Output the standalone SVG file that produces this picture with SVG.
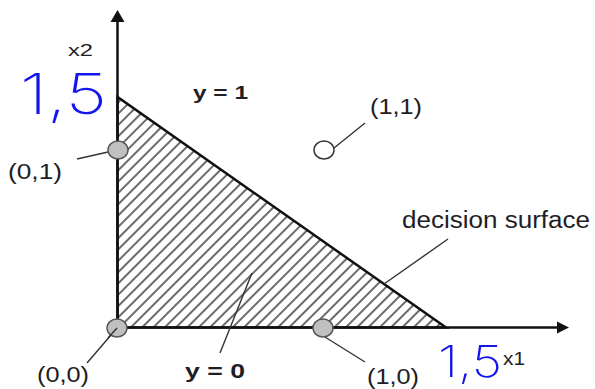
<svg xmlns="http://www.w3.org/2000/svg" width="595" height="389" viewBox="0 0 595 389">
<style>
  .lbl { font-family: "Liberation Sans", Arial, sans-serif; fill: #1e1e24; }
  .bold { font-weight: bold; }
  .hand { font-family: Inter, "DejaVu Sans", sans-serif; font-weight: 200; fill: #1414ee; }
  .axis { stroke: #111; stroke-width: 2.5; fill: none; }
  .lead { stroke: #333; stroke-width: 1.4; fill: none; }
  .pt { fill: #c0c0c0; stroke: #555; stroke-width: 1.4; }
  .ptw { fill: #fff; stroke: #333; stroke-width: 1.4; }
</style>
<defs>
  <pattern id="hatch" patternUnits="userSpaceOnUse" width="8" height="8" patternTransform="rotate(-45)">
    <line x1="0" y1="4" x2="8" y2="4" stroke="#1a1a1a" stroke-width="1.3"/>
  </pattern>
</defs>
<rect width="595" height="389" fill="#fff"/>

<g id="region">
  <polygon points="117.5,97 117.5,327.5 446,327.5" fill="url(#hatch)" stroke="#111" stroke-width="2.5" stroke-linejoin="miter"/>
</g>

<g id="axes">
  <line class="axis" x1="117.5" y1="327.5" x2="117.5" y2="20"/>
  <polygon points="117.5,10 110.5,22 124.5,22" fill="#111"/>
  <line class="axis" x1="117.5" y1="327.5" x2="559" y2="327.5"/>
  <polygon points="569,327.5 557,321.5 557,333.5" fill="#111"/>
  <text class="lbl" x="68" y="56" font-size="17" textLength="25" lengthAdjust="spacingAndGlyphs">x2</text>
  <text class="lbl" x="503" y="365" font-size="18" textLength="22" lengthAdjust="spacingAndGlyphs">x1</text>
  <text class="hand" x="20" y="114" font-size="56" textLength="87" lengthAdjust="spacingAndGlyphs">1,5</text>
  <text class="hand" x="438" y="377" font-size="44" textLength="64" lengthAdjust="spacingAndGlyphs">1,5</text>
</g>

<g id="connectors">
  <line class="lead" x1="77" y1="159" x2="108" y2="152"/>
  <line class="lead" x1="87" y1="363" x2="117" y2="328"/>
  <line class="lead" x1="325" y1="337" x2="365" y2="362"/>
  <line class="lead" x1="334" y1="148" x2="365" y2="123"/>
  <line class="lead" x1="448" y1="239" x2="384" y2="284"/>
  <line class="lead" x1="252" y1="273" x2="220" y2="353"/>
</g>

<g id="p01">
  <ellipse class="pt" cx="118" cy="150" rx="10" ry="9"/>
  <text class="lbl" x="8" y="179" font-size="22" textLength="54" lengthAdjust="spacingAndGlyphs">(0,1)</text>
</g>
<g id="p00">
  <ellipse class="pt" cx="117" cy="328" rx="10" ry="9"/>
  <line class="lead" x1="108" y1="338" x2="117" y2="328"/>
  <text class="lbl" x="37" y="382" font-size="22" textLength="52" lengthAdjust="spacingAndGlyphs">(0,0)</text>
</g>
<g id="p10">
  <ellipse class="pt" cx="323" cy="328" rx="10" ry="9"/>
  <text class="lbl" x="367" y="383.5" font-size="22" textLength="52" lengthAdjust="spacingAndGlyphs">(1,0)</text>
</g>
<g id="p11">
  <ellipse class="ptw" cx="324" cy="150" rx="10" ry="9"/>
  <text class="lbl" x="370" y="114" font-size="22" textLength="52" lengthAdjust="spacingAndGlyphs">(1,1)</text>
</g>

<g id="label-decision">
  <text class="lbl" x="402" y="228" font-size="23" textLength="188" lengthAdjust="spacingAndGlyphs">decision surface</text>
</g>
<g id="label-y1">
  <text class="lbl bold" x="193" y="99" font-size="18" textLength="55" lengthAdjust="spacingAndGlyphs">y = 1</text>
</g>
<g id="label-y0">
  <text class="lbl bold" x="185" y="378" font-size="20" textLength="60" lengthAdjust="spacingAndGlyphs">y = 0</text>
</g>
</svg>
